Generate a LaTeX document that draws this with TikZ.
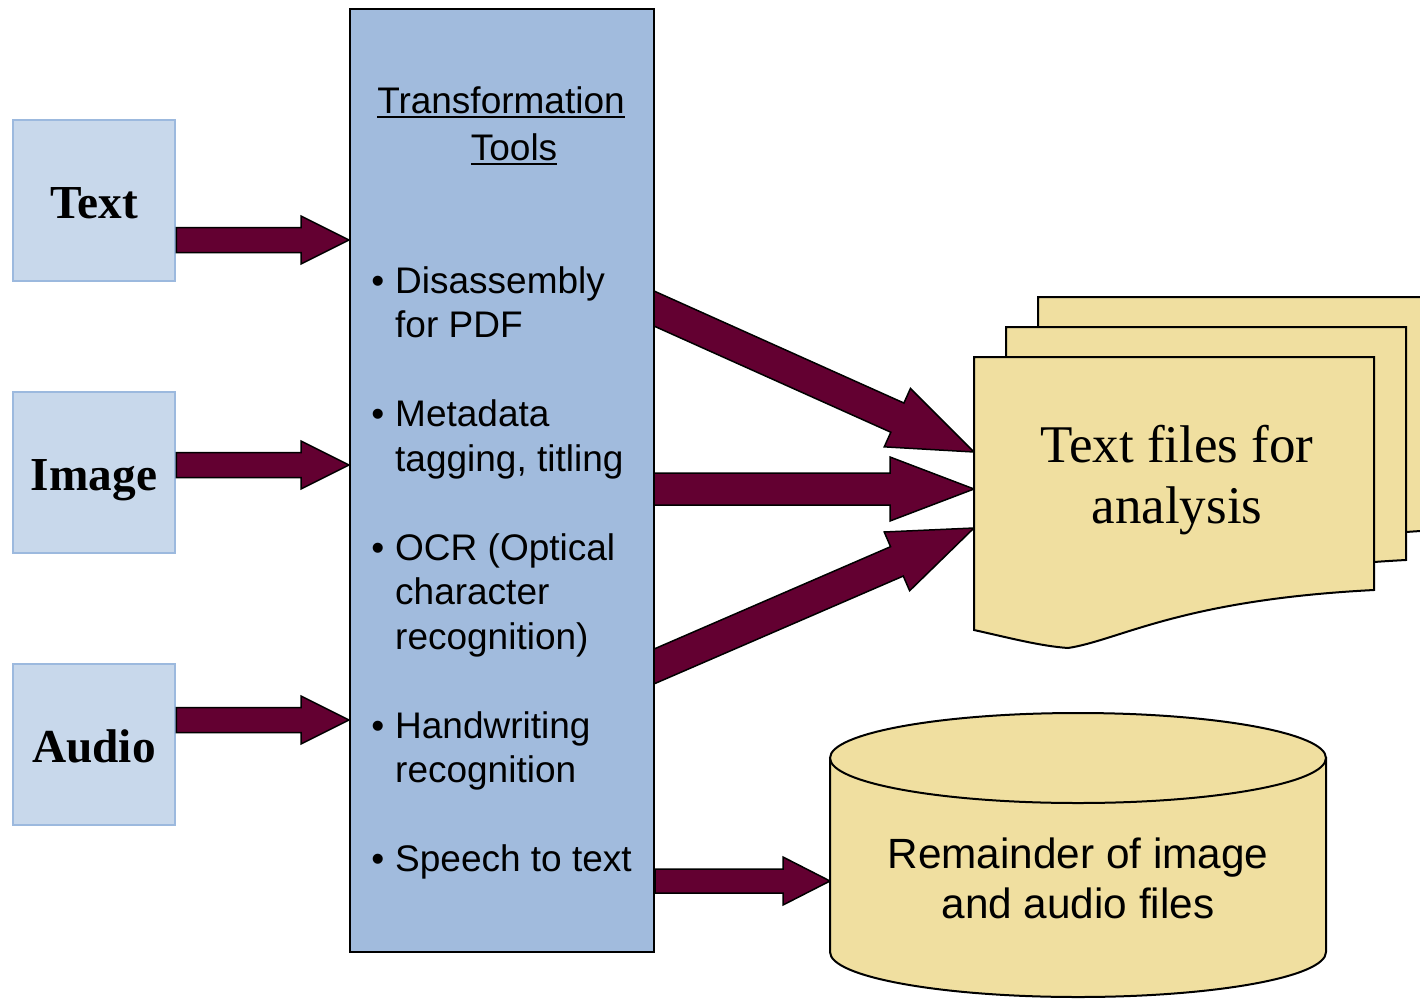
\documentclass[tikz,border=0pt]{standalone}
\usepackage{fontspec}
\setmainfont{Liberation Serif}
\setsansfont{Liberation Sans}
\usetikzlibrary{calc}

\definecolor{srcfill}{HTML}{C8D8EB}
\definecolor{srcline}{HTML}{9CB9DE}
\definecolor{toolfill}{HTML}{A1BBDD}
\definecolor{arrowfill}{HTML}{630031}
\definecolor{filefill}{HTML}{F0DFA0}

\pgfdeclarelayer{back}
\pgfsetlayers{back,main}

% multi-line text whose baseline is that of its first line
\newcommand\leftlines[1]{\vtop{\halign{##\hfil\cr#1\crcr}}}
\newcommand\centerlines[1]{\vtop{\halign{\hfil##\hfil\cr#1\crcr}}}
\newcommand\undertext[1]{\setbox0=\hbox{#1}\rlap{\rule[-5pt]{\wd0}{1.8pt}}\box0}
\newcommand\itembullet{\llap{\textbullet\hspace{11pt}}}

% block arrow: start, tip, half shaft width, half head width, head length
\newcommand\blockarrow[5]{%
  \coordinate (ba-base) at ($(#2)!#5!(#1)$);
  \path[blockarrow] ($(#1)!#3!90:(#2)$) -- ($(ba-base)!#3!90:(#2)$)
    -- ($(ba-base)!#4!90:(#2)$) -- (#2) -- ($(ba-base)!#4!-90:(#2)$)
    -- ($(ba-base)!#3!-90:(#2)$) -- ($(#1)!#3!-90:(#2)$) -- cycle;}

\begin{document}
\begin{tikzpicture}[x=1pt,y=-1pt,
  srcbox/.style={draw=srcline, line width=2.5pt, fill=srcfill,
    minimum width=162pt, minimum height=161pt, inner sep=0pt,
    text height=35pt, text depth=0pt,
    font=\fontsize{47.3}{52}\selectfont\bfseries},
  toolbox/.style={draw=black, line width=2pt, fill=toolfill,
    minimum width=304pt, minimum height=943pt, inner sep=0pt},
  blockarrow/.style={draw=black, line width=1.5pt, fill=arrowfill, line join=miter},
  page/.style={draw=black, line width=2pt, fill=filefill},
  sanslabel/.style={font=\sffamily\fontsize{37}{44.5}\selectfont, inner sep=0pt, anchor=base},
]
\useasboundingbox (0,0) rectangle (1420,998);
\clip (0,0) rectangle (1420,998);

% source boxes
\node[srcbox] (text)  at (94,200.5) {Text};
\node[srcbox] (image) at (94,472.5) {Image};
\node[srcbox] (audio) at (94,744.5) {Audio};

% transformation tools column
\node[toolbox] (tools) at (502,480.5) {};
\node[sanslabel, font=\sffamily\fontsize{37}{47}\selectfont] (title) at (501,113)
  {\centerlines{\undertext{Transformation}\cr\hspace*{26pt}\undertext{Tools}}};
\node[sanslabel, anchor=base west] (items) at (395,293) {\leftlines{%
  \itembullet Disassembly\cr for PDF\cr\cr
  \itembullet Metadata\cr tagging, titling\cr\cr
  \itembullet OCR (Optical\cr character\cr recognition)\cr\cr
  \itembullet Handwriting\cr recognition\cr\cr
  \itembullet Speech to text}};

% arrows into the tools column
\coordinate (t1) at ([yshift=-39.5pt]text.east);
\coordinate (t2) at (tools.west |- t1);
\coordinate (i1) at ([yshift=7.5pt]image.east);
\coordinate (i2) at (tools.west |- i1);
\coordinate (a1) at ([yshift=24.5pt]audio.east);
\coordinate (a2) at (tools.west |- a1);
\blockarrow{t1}{t2}{12.5pt}{24pt}{48pt}
\blockarrow{i1}{i2}{12.5pt}{24pt}{48pt}
\blockarrow{a1}{a2}{12.5pt}{24pt}{48pt}

% stacked text files
\coordinate (pagecorner) at (974,357);
\coordinate (m1) at ([xshift=-20pt,yshift=180.5pt]tools.east);
\coordinate (m2) at ([xshift=-20pt,yshift=-8.5pt]tools.east);
\coordinate (m3) at ([xshift=-20pt,yshift=-194.2pt]tools.east);
\coordinate (p1) at ([yshift=-95pt]pagecorner);
\coordinate (p2) at ([yshift=-132pt]pagecorner);
\coordinate (p3) at ([yshift=-171pt]pagecorner);
\begin{pgfonlayer}{back}
  \blockarrow{m1}{p1}{16pt}{32pt}{84pt}
  \blockarrow{m2}{p2}{16pt}{32pt}{84pt}
  \blockarrow{m3}{p3}{16pt}{32pt}{84pt}
\end{pgfonlayer}
\foreach \dx/\dy in {64/-60, 32/-30, 0/0}
  \draw[page, shift={(\dx,\dy)}] (974,357) -- (1374,357) -- (1374,590)
    .. controls (1180,600) and (1120,640) .. (1068,648)
    .. controls (1040,646) and (1010,638) .. (974,630) -- cycle;
\node[font=\fontsize{53}{61}\selectfont, inner sep=0pt, anchor=base] (files) at (1177,462)
  {\centerlines{Text files for\cr analysis}};

% remaining media store
\coordinate (drum) at (1078,758);
\coordinate (s1) at ([yshift=-400.5pt]tools.east);
\coordinate (s2) at ([xshift=-248pt,yshift=-123pt]drum);
\blockarrow{s1}{s2}{12pt}{24pt}{47pt}
\path[page] (830,758) -- (830,952) .. controls (830,976.85) and (941,997) .. (1078,997)
  .. controls (1215,997) and (1326,976.85) .. (1326,952) -- (1326,758) -- cycle;
\draw[page] (drum) ellipse [x radius=248pt, y radius=45pt];
\node[font=\sffamily\fontsize{42.3}{50}\selectfont, inner sep=0pt, anchor=base] (store) at (1078,868)
  {\centerlines{Remainder of image\cr and audio files}};
\end{tikzpicture}
\end{document}
